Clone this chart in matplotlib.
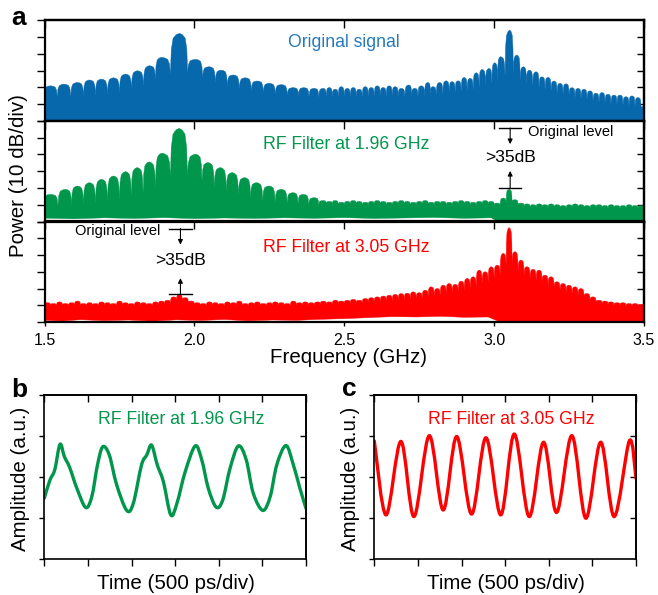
import numpy as np
import matplotlib
matplotlib.use("Agg")
import matplotlib.pyplot as plt
from matplotlib.path import Path
from matplotlib.patches import PathPatch

plt.rcParams['font.family'] = ['Liberation Sans', 'DejaVu Sans']

# ---------------- data (panel a: dB above panel floor, 10 dB/div) ----------------
freq_ticks = [1.5, 2.0, 2.5, 3.0, 3.5]
freq_labels = ['1.5', '2.0', '2.5', '3.0', '3.5']

# original signal: comb line centres (GHz), line tops, valley after each line
orig_f = [1.52, 1.565, 1.61, 1.65, 1.69, 1.73, 1.77, 1.81, 1.85, 1.89, 1.95, 2.005,
          2.05, 2.09, 2.13, 2.17, 2.21, 2.25, 2.29, 2.33, 2.365, 2.40,
          2.43, 2.45, 2.47, 2.49, 2.51, 2.53, 2.55, 2.57, 2.59, 2.61, 2.63, 2.65, 2.67, 2.69,
          2.715, 2.735, 2.757, 2.779, 2.796, 2.818, 2.84, 2.86, 2.88, 2.90, 2.92, 2.94, 2.96,
          2.983, 3.002, 3.021, 3.052, 3.076, 3.098, 3.118, 3.14, 3.16, 3.18, 3.20, 3.22, 3.24,
          3.26, 3.28, 3.30, 3.32, 3.34, 3.36, 3.38, 3.40, 3.42, 3.44, 3.46, 3.48]
orig_top = [21, 22, 23, 24.5, 25, 25.8, 28, 30, 33, 38, 52.3, 36.8,
            32.4, 30.4, 27.5, 25.8, 23.9, 22.5, 21.7, 19.9, 19.9, 19.5,
            19.5, 20, 19, 20.5, 19.5, 20, 19, 20.5, 20, 21, 20, 21, 20.5, 19.5,
            21.5, 19.5, 21, 23, 20.5, 23, 24, 23.5, 24, 26, 25.5, 28.8, 30.8,
            31.4, 34.8, 38.4, 54.3, 39.4, 32.4, 30.4, 29.4, 26.4, 26.1, 23.9, 22.5, 22.2,
            19.9, 19.5, 19, 18, 16.6, 17, 16, 15.5, 15.5, 14.5, 15, 14]
orig_valley = [14.5, 14.5, 15, 15.5, 16, 17, 19, 21, 25, 28, 29, 26,
               23, 21, 19, 18, 17, 16, 15.5, 15, 14.5, 14,
               14, 14.5, 14, 14.5, 14, 14.5, 14, 14.5, 14.5, 15, 14.5, 15, 14.5, 14.5,
               15, 15, 15, 16, 15.5, 16, 17, 17, 17.5, 18, 18.5, 20, 21,
               22, 24, 27, 28, 24, 22, 21, 20, 18.5, 18, 16.5, 16, 15.5,
               14, 13.5, 13, 12, 11, 11, 10, 10, 9.5, 9, 9, 8.5]
orig_floor_f = [1.5, 3.5]
orig_floor_db = [0, 0]

# RF filter at 1.96 GHz
green_f = [1.52, 1.57, 1.61, 1.65, 1.69, 1.73, 1.77, 1.809, 1.849, 1.891, 1.949, 2.005,
           2.046, 2.087, 2.126, 2.168, 2.207, 2.249, 2.29, 2.329, 2.363, 2.40] \
    + list(np.round(np.arange(2.43, 3.495, 0.02), 2))
green_top = [16.2, 19.2, 21.2, 23.2, 25.2, 27.2, 29.8, 32.2, 35.6, 40.8, 55.6, 40.2,
             35.2, 32.2, 29.2, 26.2, 23.2, 21.2, 19.2, 17.2, 16.2, 14.2,
             12.5, 12, 12.5, 11.5, 12, 12.5, 12, 11.5, 12, 12.5, 12, 11.5, 12, 12.5, 12,
             11.5, 12, 12.5, 11.5, 12, 12, 11.5, 12, 12.5, 12, 11.5, 12, 12.5, 12,
             11, 14, 19.2, 13, 11,
             10.5, 10, 10.5, 10, 10.5, 10, 9.5, 10, 10.5, 10, 9.5, 10, 10, 9.5, 10,
             9.5, 9.5, 10, 9.5, 9.5]
green_valley = [9.5, 10, 10.5, 11, 12, 13, 15, 17, 20, 27, 27, 24,
                20, 18, 16, 14, 12.5, 11.5, 11, 10.5, 10, 10,
                10.5, 10.5, 10, 10, 10.5, 10.5, 10, 10, 10.5, 10.5, 10, 10, 10.5, 10.5, 10,
                10, 10.5, 10.5, 10, 10.5, 10, 10, 10.5, 10.5, 10, 10, 10.5, 10.5, 10,
                9.5, 11.5, 11.5, 10, 9,
                8.5, 8.5, 9, 8.5, 8.5, 8.5, 8, 8.5, 8.5, 8.5, 8, 8.5, 8.5, 8, 8.5,
                8, 8, 8.5, 8, 8]
green_floor_f = [1.50, 1.60, 1.70, 1.80, 1.90, 2.00, 2.10, 2.20, 2.30, 2.40, 2.50,
                 2.60, 2.70, 2.80, 2.90, 2.99, 3.01, 3.50]
green_floor_db = [2.0, 1.6, 2.2, 1.8, 2.3, 1.7, 2.1, 1.8, 2.2, 1.9, 2.3,
                  1.8, 2.1, 2.4, 1.9, 2.2, 0.2, 0.2]

# RF filter at 3.05 GHz
red_f = list(np.round(np.arange(1.51, 3.495, 0.02), 2))
red_top = [11.5, 11, 12, 11, 11.5, 12.5, 11, 11.5, 11, 12, 11.5, 11, 12.5, 11.5, 11, 12, 11.5, 11, 12, 12.5,
           13, 15, 16.2, 14.5, 12.5,
           11.5, 11, 12, 11.5, 11, 12, 11.5, 12.5, 11, 11.5, 12, 11, 11.5, 12, 11.5, 11, 12.5, 11.5, 12, 11.5,
           12, 12.5, 12, 13, 12.5, 13, 13.5, 13, 14, 14.5,
           15, 15.5, 16, 16.5, 17, 17.2, 18, 17.5, 19, 21, 20, 22, 23, 22.5, 24.4, 26, 27, 31, 30, 33,
           34, 41, 56.4, 42, 37,
           33, 31.5, 31, 28, 27, 24, 23, 22, 21, 20, 17, 15, 13, 12.5, 12, 11.5, 11.5, 11, 11, 10.6]
red_valley = [10, 9.5, 10, 9.5, 10, 10, 9.5, 10, 9.5, 10, 10, 9.5, 10, 10, 9.5, 10, 10, 9.5, 10, 10.5,
              11, 13, 13, 11.5, 10.5,
              10, 9.5, 10, 10, 9.5, 10, 10, 10, 9.5, 10, 10, 9.5, 10, 10, 10, 9.5, 10, 10, 10, 10,
              10.5, 10.5, 10.5, 11, 11, 11, 11.5, 11.5, 12, 12,
              12, 12.5, 12.5, 13, 13, 13.5, 14, 14, 15, 15.5, 16, 17, 17.5, 18, 19, 20, 21, 23, 24, 26,
              28, 33, 34, 30, 28,
              26, 25, 24, 22, 21, 19, 18, 17, 16, 15, 13, 12, 11, 10.5, 10, 10, 9.5, 9.5, 9.5, 9]
red_floor_f = [1.50, 1.56, 1.62, 1.70, 1.78, 1.86, 1.94, 2.02, 2.10, 2.18, 2.26, 2.34,
               2.42, 2.50, 2.58, 2.66, 2.74, 2.82, 2.90, 2.98, 3.00, 3.02, 3.50]
red_floor_db = [1.0, 0.6, 1.4, 0.8, 1.2, 0.5, 1.3, 0.9, 1.5, 0.7, 1.2, 1.0,
                1.6, 2.0, 2.6, 3.2, 3.0, 3.4, 2.8, 3.0, 1.5, 0.0, 0.0]

# panels b, c: time (divisions of 500 ps), amplitude (divisions)
wave_b_t = [0.0, 0.13, 0.24, 0.36, 0.46, 0.58, 0.75, 0.95, 1.09, 1.22, 1.34, 1.49, 1.66,
            1.89, 2.04, 2.23, 2.35, 2.46, 2.59, 2.73, 2.90, 3.04, 3.23, 3.46, 3.61, 3.76,
            3.94, 4.09, 4.26, 4.45, 4.63, 4.79, 5.01, 5.18, 5.33, 5.54, 5.71, 5.86, 6.0]
wave_b_y = [1.49, 1.93, 2.18, 2.80, 2.50, 2.24, 1.72, 1.26, 1.53, 2.30, 2.74, 2.54, 1.81,
            1.19, 1.36, 2.30, 2.54, 2.78, 2.30, 1.89, 1.08, 1.36, 2.13, 2.76, 2.42, 1.73,
            1.27, 1.44, 2.22, 2.76, 2.42, 1.61, 1.19, 1.53, 2.30, 2.77, 2.30, 1.73, 1.24]
wave_c_t = [0.0, 0.27, 0.61, 0.91, 1.26, 1.58, 1.89, 2.23, 2.56, 2.90, 3.21, 3.55, 3.88,
            4.18, 4.53, 4.85, 5.19, 5.50, 5.85, 6.0]
wave_c_y = [2.88, 1.08, 2.87, 1.04, 3.01, 1.20, 2.99, 1.10, 2.96, 1.08, 3.05, 1.04, 2.85,
            1.14, 3.01, 1.00, 2.85, 1.04, 2.89, 1.97]

# ---------------- colours ----------------
c_blue = '#0868ac'
c_blue_txt = '#2479bf'
c_green = '#00964b'
c_red = '#ff0000'

W, H = 658, 595


def comb_outline(f, top, valley):
    # outline of the comb lines, each line drawn as an arch between valleys
    shape = [(-0.9, 0.6), (-0.7, 0.88), (-0.35, 0.97), (0.0, 1.0),
             (0.35, 0.97), (0.7, 0.88), (0.9, 0.6)]
    n = len(f)
    xs, ys = [1.45], [valley[0]]
    for i in range(n):
        hl = (f[i] - f[i - 1]) / 2 if i > 0 else (f[1] - f[0]) / 2
        hr = (f[i + 1] - f[i]) / 2 if i < n - 1 else hl
        vl = valley[i - 1] if i > 0 else valley[0]
        vr = valley[i]
        if i == 0:
            xs.append(f[0] - hl)
            ys.append(vl)
        for off, frac in shape:
            v = vl if off < 0 else vr
            h = hl if off < 0 else hr
            xs.append(f[i] + off * h)
            ys.append(v + frac * (top[i] - v))
        xs.append(f[i] + hr)
        ys.append(vr)
    xs.append(3.55)
    ys.append(valley[-1])
    return np.array(xs), np.array(ys)


def draw_spectrum(ax, f, top, valley, floor_f, floor_db, color):
    ux, uy = comb_outline(f, top, valley)
    lx = np.r_[1.45, floor_f, 3.55]
    ly = np.r_[floor_db[0], floor_db, floor_db[-1]]
    ax.fill(np.r_[ux, lx[::-1]], np.r_[uy, ly[::-1]], color=color, lw=0.3, ec=color, zorder=1)


def smooth_path(x, y):
    p = np.column_stack([x, y])
    pp = np.vstack([p[0], p, p[-1]])
    verts = [p[0]]
    codes = [Path.MOVETO]
    for i in range(1, len(pp) - 2):
        p0, p1, p2, p3 = pp[i - 1], pp[i], pp[i + 1], pp[i + 2]
        verts += [p1 + (p2 - p0) / 6, p2 - (p3 - p1) / 6, p2]
        codes += [Path.CURVE4] * 3
    return Path(verts, codes)


def frame(ax, xt, yt, yt_in, lw, len_l, len_r, len_t, len_b, bottom=True):
    for s in ax.spines.values():
        s.set_linewidth(lw)
    ax.set_xticks(xt)
    ax.set_yticks(yt)
    ax.tick_params(axis='y', direction='out', left=True, right=False, labelleft=False,
                   length=len_l, width=1)
    ax.tick_params(axis='x', direction='out', bottom=bottom, top=False, labelbottom=False,
                   length=len_b, width=1)
    sx = ax.secondary_xaxis('top')
    sx.set_xticks(xt)
    sx.tick_params(axis='x', direction='in', length=len_t, width=1, labeltop=False)
    sy = ax.secondary_yaxis('right')
    sy.set_yticks(yt_in)
    sy.tick_params(axis='y', direction='in', length=len_r, width=1, labelright=False)
    for s in list(sx.spines.values()) + list(sy.spines.values()):
        s.set_linewidth(lw)


def px(x, y):
    return x / W, 1 - y / H


fig = plt.figure(figsize=(W / 100, H / 100), dpi=100)

# ---------------- panel a ----------------
left, width = 44.5 / W, (644 - 44.5) / W
ph = 100.5 / H
bots = [1 - 121 / H, 1 - 221.5 / H, 1 - 322 / H]
specs = [(orig_f, orig_top, orig_valley, orig_floor_f, orig_floor_db, c_blue),
         (green_f, green_top, green_valley, green_floor_f, green_floor_db, c_green),
         (red_f, red_top, red_valley, red_floor_f, red_floor_db, c_red)]
axs = []
for k, (f, top, val, ff, fd, col) in enumerate(specs):
    ax = fig.add_axes([left, bots[k], width, ph])
    draw_spectrum(ax, f, top, val, ff, fd, col)
    ax.set_xlim(1.5, 3.5)
    ax.set_ylim(0, 60)
    frame(ax, freq_ticks, [0, 10, 20, 30, 40, 50, 60], [10, 20, 30, 40, 50], 1.6,
          5.8, 5, 5.5, 3, bottom=(k == 2))
    axs.append(ax)

axs[0].yaxis.get_major_ticks()[1].tick1line.set_color('#6aa5d8')
axs[2].set_xticklabels(freq_labels)
axs[2].tick_params(axis='x', labelbottom=True, labelsize=11.5, pad=5)

axs[0].text(*px(344, 47), 'Original signal', transform=fig.transFigure, color=c_blue_txt,
            fontsize=12.7, ha='center', va='baseline')
axs[1].text(*px(346.5, 149.3), 'RF Filter at 1.96 GHz', transform=fig.transFigure,
            color=c_green, fontsize=12.7, ha='center', va='baseline')
axs[2].text(*px(346.5, 252.3), 'RF Filter at 3.05 GHz', transform=fig.transFigure,
            color=c_red, fontsize=12.7, ha='center', va='baseline')


def level_marks(ax, x0, x1, y_top, tip_top, y_bot, tip_bot, txt_y, lab_x, lab_y, lab_ha):
    xc = (x0 + x1) / 2
    ax.plot([x0, x1], [y_top, y_top], color='k', lw=1.0, zorder=3)
    ax.plot([x0, x1], [y_bot, y_bot], color='k', lw=1.0, zorder=3)
    arr = dict(arrowstyle='-|>', color='k', lw=0.8, mutation_scale=7, shrinkA=0, shrinkB=0)
    ax.annotate('', xy=(xc, tip_top), xytext=(xc, y_top), arrowprops=arr)
    ax.annotate('', xy=(xc, tip_bot), xytext=(xc, y_bot), arrowprops=arr)
    ax.text(xc, txt_y, '>35dB', fontsize=12.6, ha='center', va='baseline')
    ax.text(lab_x, lab_y, 'Original level', fontsize=10.5, ha=lab_ha, va='baseline')


level_marks(axs[1], 3.016, 3.091, 55.8, 46.2, 19.8, 30.2, 35.4, 3.113, 51.2, 'left')
level_marks(axs[2], 1.916, 1.991, 55.8, 46.2, 16.8, 26.2, 33.8, 1.887, 52.2, 'right')

fig.text(*px(19, 176), 'Power (10 dB/div)', rotation=90, fontsize=14.8, ha='center', va='center')
fig.text(*px(348, 363), 'Frequency (GHz)', fontsize=14.8, ha='center', va='baseline')

# ---------------- panels b, c ----------------
pb, ph2, pw = 1 - 559.3 / H, 164.3 / H, 261.7 / W
waves = [(44.3, wave_b_t, wave_b_y, c_green, 'RF Filter at 1.96 GHz', 181.5, 21, 176.3),
         (374.3, wave_c_t, wave_c_y, c_red, 'RF Filter at 3.05 GHz', 511.5, 351, 506.3)]
for x0, t, y, col, title, tx, ylx, xlx in waves:
    ax = fig.add_axes([x0 / W, pb, pw, ph2])
    ax.add_patch(PathPatch(smooth_path(t, y), fc='none', ec=col, lw=2.4,
                           capstyle='round', joinstyle='round'))
    ax.set_xlim(0, 6)
    ax.set_ylim(0, 4)
    frame(ax, [0, 1, 2, 3, 4, 5, 6], [0, 1, 2, 3, 4], [1, 2, 3], 1.2, 3.6, 4.3, 4.8, 5)
    fig.text(*px(tx, 424.3), title, color=col, fontsize=12.7, ha='center', va='baseline')
    fig.text(*px(ylx, 479), 'Amplitude (a.u.)', rotation=90, fontsize=14.8,
             ha='center', va='center')
    fig.text(*px(xlx, 589), 'Time (500 ps/div)', fontsize=14.8, ha='center', va='baseline')

# panel letters
fig.text(*px(11, 25), 'a', fontsize=19, fontweight='bold', va='baseline')
fig.text(*px(11, 397), 'b', fontsize=19, fontweight='bold', va='baseline')
fig.text(*px(342, 396), 'c', fontsize=19, fontweight='bold', va='baseline')

fig.savefig('out.png', dpi=100)
